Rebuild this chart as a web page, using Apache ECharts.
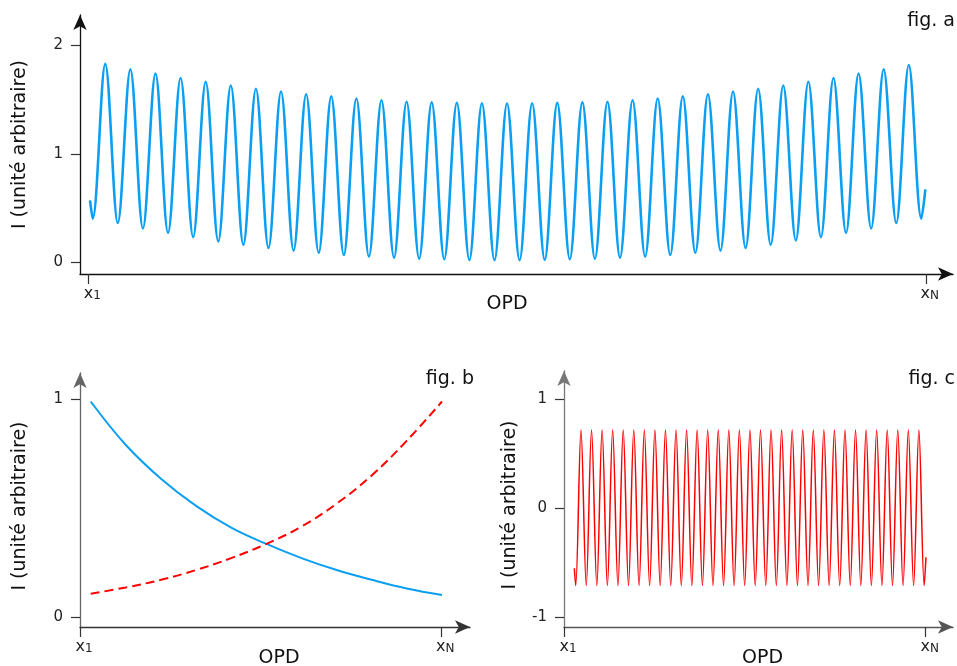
<!DOCTYPE html>
<html><head><meta charset="utf-8">
<script src="https://cdn.jsdelivr.net/npm/echarts@6/dist/echarts.min.js"></script>
<style>html,body{margin:0;padding:0;background:#fff}#chart{width:957px;height:666px}</style>
</head><body><div id="chart"></div>
<script>
// ---------- fig. a : interferogram (extrema, x = extremum index) ----------
const aPeaks = [1.83,1.78,1.74,1.70,1.665,1.63,1.60,1.575,1.55,1.53,1.51,1.495,1.48,1.475,1.47,1.466,1.465,
                1.466,1.47,1.475,1.48,1.495,1.51,1.53,1.55,1.575,1.60,1.63,1.665,1.70,1.74,1.78,1.82];
const aTroughs = [0.40,0.36,0.31,0.27,0.23,0.19,0.16,0.13,0.105,0.085,0.065,0.05,0.04,0.03,0.025,0.018,0.016,
                  0.016,0.02,0.025,0.03,0.04,0.05,0.065,0.085,0.105,0.13,0.16,0.20,0.23,0.27,0.31,0.36,0.40];
const aStart = [-0.215, 0.57];
const aEnd = [66.32, 0.67];
const aXTicks = [-0.35, 66.35];      // x1, xN
const aYTicks = [0, 1, 2];

// ---------- fig. b : two decaying / growing intensities ----------
const bOPD  = [0, 0.1, 0.2, 0.3, 0.4, 0.5, 0.6, 0.7, 0.8, 0.9, 1.0];
const bBlue = [0.99, 0.79, 0.635, 0.51, 0.41, 0.335, 0.27, 0.215, 0.17, 0.13, 0.10];
const bRed  = [0.106, 0.135, 0.17, 0.215, 0.27, 0.335, 0.415, 0.52, 0.65, 0.81, 0.99];
const bXTicks = [-0.0305, 0.998];
const bYTicks = [0, 1];

// ---------- fig. c : modulation term ----------
const cPeaks = [0.72,0.72,0.72,0.72,0.72,0.72,0.72,0.72,0.72,0.72,0.72,0.72,0.72,0.72,0.72,0.72,0.72,
                0.72,0.72,0.72,0.72,0.72,0.72,0.72,0.72,0.72,0.72,0.72,0.72,0.72,0.72,0.72,0.72];
const cTroughs = [-0.71,-0.71,-0.71,-0.71,-0.71,-0.71,-0.71,-0.71,-0.71,-0.71,-0.71,-0.71,-0.71,-0.71,-0.71,-0.71,-0.71,
                  -0.71,-0.71,-0.71,-0.71,-0.71,-0.71,-0.71,-0.71,-0.71,-0.71,-0.71,-0.71,-0.71,-0.71,-0.71,-0.71,-0.71];
const cStart = [-0.265, -0.55];
const cEnd = [66.34, -0.45];
const cXTicks = [-2.216, 66.29];
const cYTicks = [-1, 0, 1];

const yTitle = 'I (unité arbitraire)';
const xTitle = 'OPD';

function interleave(start, troughs, peaks, end) {
  const pts = [start];
  for (let i = 0; i < troughs.length; i++) {
    pts.push([2 * i, troughs[i]]);
    if (i < peaks.length) pts.push([2 * i + 1, peaks[i]]);
  }
  pts.push(end);
  return pts;
}
function zip(xs, ys) { return xs.map((x, i) => [x, ys[i]]); }

const FONT = 'DejaVu Sans';
const BLUE = '#0a9ff2';
const RED = '#ff0000';

function xAxis(gi, min, max, ticks, color, pad, gap) {
  return {
    type: 'value', gridIndex: gi, min: min, max: max,
    axisLine: { show: true, onZero: false, symbol: ['none', 'arrow'], symbolSize: [10, 15],
                lineStyle: { color: color, width: 1.3 } },
    axisTick: { show: true, customValues: ticks, length: 10, lineStyle: { color: '#333', width: 1.2 } },
    axisLabel: {
      customValues: ticks, margin: 12, showMinLabel: true, showMaxLabel: true,
      formatter: v => (Math.abs(v - ticks[0]) < 1e-6 ? '{p| }{x|x}{s|1}' : '{p| }{x|x}{s|N}'),
      rich: {
        p: { width: 8, fontSize: 12 },
        x: { fontSize: 16, fontFamily: FONT, color: '#222', lineHeight: 16, verticalAlign: 'top' },
        s: { fontSize: 12, fontFamily: FONT, color: '#222', lineHeight: 12, verticalAlign: 'bottom', padding: [8, 0, 0, 0] }
      }
    },
    splitLine: { show: false },
    name: xTitle, nameLocation: 'middle', nameGap: gap, nameMoveOverlap: false,
    nameTextStyle: { fontSize: 19, fontFamily: FONT, color: '#111', padding: pad }
  };
}
function yAxis(gi, min, max, ticks, color, gap, pad) {
  return {
    type: 'value', gridIndex: gi, min: min, max: max,
    axisLine: { show: true, onZero: false, symbol: ['none', 'arrow'], symbolSize: [10, 15],
                lineStyle: { color: color, width: 1.3 } },
    axisTick: { show: true, customValues: ticks, length: 9, lineStyle: { color: '#333', width: 1.2 } },
    axisLabel: { customValues: ticks, margin: 17, fontSize: 15, fontFamily: FONT, color: '#222',
                 showMinLabel: true, showMaxLabel: true },
    splitLine: { show: false },
    name: yTitle, nameLocation: 'middle', nameGap: gap, nameRotate: 90, nameMoveOverlap: false,
    nameTextStyle: { fontSize: 19, fontFamily: FONT, color: '#111', padding: pad }
  };
}

const option = {
  animation: false,
  backgroundColor: '#fff',
  title: [
    { text: 'fig. a', right: 2, top: 12, padding: 0, textStyle: { fontSize: 19, fontWeight: 'normal', fontFamily: FONT, color: '#111' } },
    { text: 'fig. b', right: 483, top: 370, padding: 0, textStyle: { fontSize: 19, fontWeight: 'normal', fontFamily: FONT, color: '#111' } },
    { text: 'fig. c', right: 2, top: 370, padding: 0, textStyle: { fontSize: 19, fontWeight: 'normal', fontFamily: FONT, color: '#111' } }
  ],
  grid: [
    { left: 80, right: 4, top: 15, bottom: 392, containLabel: false, outerBoundsMode: 'none' },
    { left: 80, right: 487, top: 373, bottom: 39, containLabel: false, outerBoundsMode: 'none' },
    { left: 564, right: 4, top: 371, bottom: 39, containLabel: false, outerBoundsMode: 'none' }
  ],
  xAxis: [
    xAxis(0, -1.012, 68.52, aXTicks, '#111', [0, 19, 0, 0], 21),
    xAxis(1, -0.0305, 1.0797, bXTicks, '#333', [0, 0, 0, 8], 22),
    xAxis(2, -2.216, 71.46, cXTicks, '#555', [0, 0, 0, 8], 22)
  ],
  yAxis: [
    yAxis(0, -0.111, 2.282, aYTicks, '#111', 50, [0, 0, 0, 0]),
    yAxis(1, -0.047, 1.121, bYTicks, '#666', 50, [0, 12, 0, 0]),
    yAxis(2, -1.09, 1.2608, cYTicks, '#777', 44, [0, 12, 0, 0])
  ],
  series: [
    { type: 'line', xAxisIndex: 0, yAxisIndex: 0, data: interleave(aStart, aTroughs, aPeaks, aEnd),
      smooth: 0.35, symbol: 'none', lineStyle: { color: BLUE, width: 2.6 } },
    { type: 'line', xAxisIndex: 1, yAxisIndex: 1, data: zip(bOPD, bBlue),
      smooth: 0.4, symbol: 'none', lineStyle: { color: BLUE, width: 2 } },
    { type: 'line', xAxisIndex: 1, yAxisIndex: 1, data: zip(bOPD, bRed),
      smooth: 0.4, symbol: 'none', lineStyle: { color: RED, width: 2, type: [9, 5] } },
    { type: 'line', xAxisIndex: 2, yAxisIndex: 2, data: interleave(cStart, cTroughs, cPeaks, cEnd),
      smooth: 0.35, symbol: 'none', lineStyle: { color: RED, width: 1.5 } }
  ]
};
const chart = echarts.init(document.getElementById('chart'), null, { renderer: 'canvas' });
chart.setOption(option);
</script>
</body></html>
